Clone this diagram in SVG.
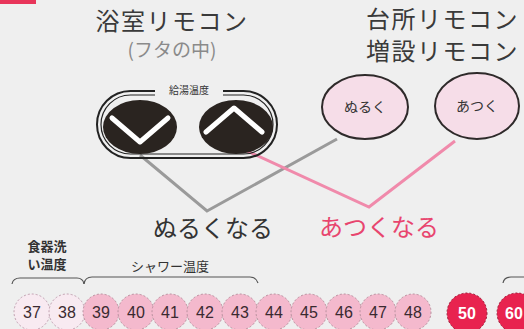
<svg xmlns="http://www.w3.org/2000/svg" width="524" height="329" viewBox="0 0 524 329">
<style>
.jp{font-family:"Noto Sans CJK JP","Noto Sans",sans-serif;}
.title{font-size:24px;fill:#3a3a3a;letter-spacing:1.5px;}
.sub{font-size:19px;fill:#8a8a8a;}
.bub{fill:#f6dde8;stroke:#2e2a2a;stroke-width:2;}
.bubt{font-size:14px;fill:#333;text-anchor:middle;}
.chev{fill:none;stroke:#fff;stroke-width:5;stroke-linecap:round;stroke-linejoin:round;}
.dark{fill:#2a2420;}
.num{font-family:"Liberation Sans",Arial,sans-serif;font-size:16px;fill:#3a2a30;text-anchor:middle;}
.numw{font-family:"Liberation Sans",Arial,sans-serif;font-size:16px;font-weight:bold;fill:#fff;text-anchor:middle;}
.pc{fill:#f4b9cd;stroke:#b8909e;stroke-width:1;stroke-dasharray:2 2;}
.lc{fill:#f8eaf1;stroke:#c0a0b0;stroke-width:1;stroke-dasharray:2 2;}
.rc{fill:#e8234f;stroke:#9a1a36;stroke-width:1;stroke-dasharray:2 2;}
.brace{fill:none;stroke:#555;stroke-width:1.2;}
.lbl{font-size:13px;fill:#333;font-weight:bold;}
</style>
<rect width="524" height="329" fill="#efefef"/>
<rect x="0" y="0" width="36" height="4" fill="#e8355a"/>

<g id="title-bath">
<text class="jp title" x="172" y="30" text-anchor="middle">浴室リモコン</text>
<text class="jp sub" x="172" y="57" text-anchor="middle">(フタの中)</text>
</g>
<g id="title-kitchen">
<text class="jp title" x="366" y="28">台所リモコン</text>
<text class="jp title" x="366" y="60">増設リモコン</text>
</g>

<g id="connectors">
<polyline points="140,155 207,211 337,139" fill="none" stroke="#9a9a9a" stroke-width="3"/>
<polyline points="247,151 369,207 455,141" fill="none" stroke="#f08aab" stroke-width="3"/>
</g>

<g id="bath-remote">
<rect x="97" y="91" width="180" height="67" rx="33.5" fill="none" stroke="#222" stroke-width="2"/>
<rect x="101" y="95" width="172" height="59" rx="29.5" fill="none" stroke="#222" stroke-width="1.2"/>
<rect x="155" y="84" width="68" height="14" fill="#efefef"/>
<text class="jp" x="189" y="94" font-size="10" fill="#333" text-anchor="middle">給湯温度</text>
<g id="btn-down">
<ellipse class="dark" cx="140" cy="127" rx="37" ry="27"/>
<polyline class="chev" points="112,118 140,142 168,118"/>
</g>
<g id="btn-up">
<ellipse class="dark" cx="236" cy="127" rx="37" ry="27"/>
<polyline class="chev" points="206,132 234,108 262,132"/>
</g>
</g>

<g id="btn-nuruku">
<ellipse class="bub" cx="365" cy="107" rx="43" ry="32"/>
<text class="jp bubt" x="365" y="112">ぬるく</text>
</g>
<g id="btn-atsuku">
<ellipse class="bub" cx="477" cy="106" rx="42" ry="33"/>
<text class="jp bubt" x="477" y="111">あつく</text>
</g>

<g id="label-nuruku">
<text class="jp" x="213" y="237" font-size="24" fill="#333" text-anchor="middle">ぬるくなる</text>
</g>
<g id="label-atsuku">
<text class="jp" x="379" y="236" font-size="24" fill="#e8456e" text-anchor="middle">あつくなる</text>
</g>

<g id="label-dish">
<text class="jp lbl" x="47" y="251" text-anchor="middle">食器洗</text>
<text class="jp lbl" x="47" y="269" text-anchor="middle">い温度</text>
<path class="brace" d="M12,284 Q13,278 20,278 L77,278 Q83,278 84,284"/>
</g>
<g id="label-shower">
<text class="jp" x="170" y="271" font-size="13" fill="#333" text-anchor="middle">シャワー温度</text>
<path class="brace" d="M84,284 Q85,277 92,277 L250,277 Q256,277 258,283"/>
</g>
<path class="brace" d="M503,283 Q504,277 511,277 L524,277"/>

<g id="temps">
<circle class="lc" cx="32" cy="312" r="18"/>
<circle class="lc" cx="67" cy="312" r="18"/>
<circle class="pc" cx="101" cy="312" r="18"/>
<circle class="pc" cx="136" cy="312" r="18"/>
<circle class="pc" cx="170" cy="312" r="18"/>
<circle class="pc" cx="205" cy="312" r="18"/>
<circle class="pc" cx="240" cy="312" r="18"/>
<circle class="pc" cx="274" cy="312" r="18"/>
<circle class="pc" cx="309" cy="312" r="18"/>
<circle class="pc" cx="344" cy="312" r="18"/>
<circle class="pc" cx="378" cy="312" r="18"/>
<circle class="pc" cx="413" cy="312" r="18"/>
<circle class="rc" cx="467" cy="313" r="20"/>
<circle class="rc" cx="517" cy="313" r="20"/>
<text class="num" x="32" y="318">37</text>
<text class="num" x="67" y="318">38</text>
<text class="num" x="101" y="318">39</text>
<text class="num" x="136" y="318">40</text>
<text class="num" x="170" y="318">41</text>
<text class="num" x="205" y="318">42</text>
<text class="num" x="240" y="318">43</text>
<text class="num" x="274" y="318">44</text>
<text class="num" x="309" y="318">45</text>
<text class="num" x="344" y="318">46</text>
<text class="num" x="378" y="318">47</text>
<text class="num" x="413" y="318">48</text>
<text class="numw" x="467" y="319">50</text>
<text class="numw" x="514" y="319">60</text>
</g>
</svg>
